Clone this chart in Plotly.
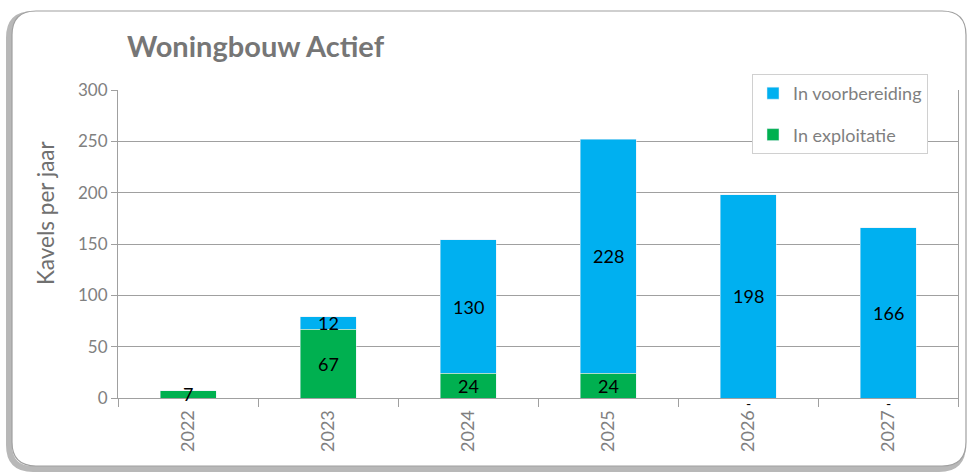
import plotly.graph_objects as go

# data
years = ["2022", "2023", "2024", "2025", "2026", "2027"]
exploitatie = [7, 67, 24, 24, 0, 0]
voorbereiding = [None, 12, 130, 228, 198, 166]

blue = "#00B0F0"
green = "#00B050"
grey = "#7F7F7F"
font = "Lato, 'Open Sans', sans-serif"

fig = go.Figure()
fig.add_trace(go.Bar(x=years, y=exploitatie, name="In exploitatie",
                     marker_color=green, legendgroup="e", legendrank=2, width=0.4))
fig.add_trace(go.Bar(x=years, y=voorbereiding, name="In voorbereiding",
                     marker_color=blue, legendgroup="v", legendrank=1, width=0.4))

# datalabels in het midden van elk segment (x = categorie-index)
for i, (e, v) in enumerate(zip(exploitatie, voorbereiding)):
    if e:
        fig.add_annotation(x=i, y=e / 2, text=str(e), showarrow=False,
                           font=dict(size=18, color="black", family=font))
    else:
        fig.add_annotation(x=i, y=0, text="-", showarrow=False, yshift=-5,
                           font=dict(size=14, color="black", family=font))
    if v:
        fig.add_annotation(x=i, y=e + v / 2, text=str(v), showarrow=False,
                           font=dict(size=18, color="black", family=font))

# afgeronde kader om de grafiek (paper coords)
W, H = 970, 472
l, r, t, b = 118, 12, 90, 74
pw, ph = W - l - r, H - t - b
px = lambda v: (v - l) / pw
py = lambda v: (H - b - v) / ph


def rounded(x0, y0, x1, y1, rad):
    return (f"M {px(x0 + rad)},{py(y0)} L {px(x1 - rad)},{py(y0)} "
            f"Q {px(x1)},{py(y0)} {px(x1)},{py(y0 + rad)} "
            f"L {px(x1)},{py(y1 - rad)} Q {px(x1)},{py(y1)} {px(x1 - rad)},{py(y1)} "
            f"L {px(x0 + rad)},{py(y1)} Q {px(x0)},{py(y1)} {px(x0)},{py(y1 - rad)} "
            f"L {px(x0)},{py(y0 + rad)} Q {px(x0)},{py(y0)} {px(x0 + rad)},{py(y0)} Z")


fig.add_shape(type="path", path=rounded(9, 14, 963, 469, 24), xref="paper", yref="paper",
              line=dict(color="#B8B8B8", width=6), layer="below")
fig.add_shape(type="path", path=rounded(12, 11, 966, 466, 24), xref="paper", yref="paper",
              line=dict(color="#A0A0A0", width=1.2), fillcolor="white", layer="below")

# as-titel (staat in het origineel iets boven het midden)
fig.add_annotation(text="Kavels per jaar", xref="paper", yref="paper", x=px(45), y=py(213),
                   textangle=-90, showarrow=False, xanchor="center", yanchor="middle",
                   font=dict(size=22.5, color="#707070", family=font))

fig.update_layout(
    width=W, height=H,
    margin=dict(l=l, r=r, t=t, b=b, autoexpand=False),
    barmode="stack",
    paper_bgcolor="white", plot_bgcolor="white",
    font=dict(family=font, color=grey),
    title=dict(text="<b>Woningbouw Actief</b>", x=127 / W, xanchor="left",
               y=1 - 47 / H, yanchor="middle", font=dict(size=29, color="#767676")),
    legend=dict(x=px(752), y=py(74), xanchor="left", yanchor="top",
                bgcolor="white", bordercolor="#D0D0D0", borderwidth=1,
                traceorder="grouped", tracegroupgap=15, itemwidth=30,
                font=dict(size=18, color=grey, family=font)),
    showlegend=True,
)
fig.update_yaxes(range=[0, 300], dtick=50, showgrid=True, gridcolor="#A0A0A0", gridwidth=1,
                 showline=True, linecolor="#A0A0A0", mirror=True, zeroline=False,
                 ticks="outside", ticklen=6, tickcolor="#A0A0A0", automargin=False,
                 tickfont=dict(size=17, color="#808080"))
fig.update_xaxes(type="category", categoryorder="array", categoryarray=years,
                 range=[-0.5, len(years) - 0.5],
                 showgrid=False, showline=True, linecolor="#A0A0A0",
                 ticks="outside", ticklen=8, tickcolor="#A0A0A0", tickson="boundaries",
                 ticklabelstandoff=4,
                 tickangle=-90, automargin=False, tickfont=dict(size=18, color="#808080"))

fig.write_html("out.html", config={"displayModeBar": False},
               post_script="document.body.style.margin='0';")
